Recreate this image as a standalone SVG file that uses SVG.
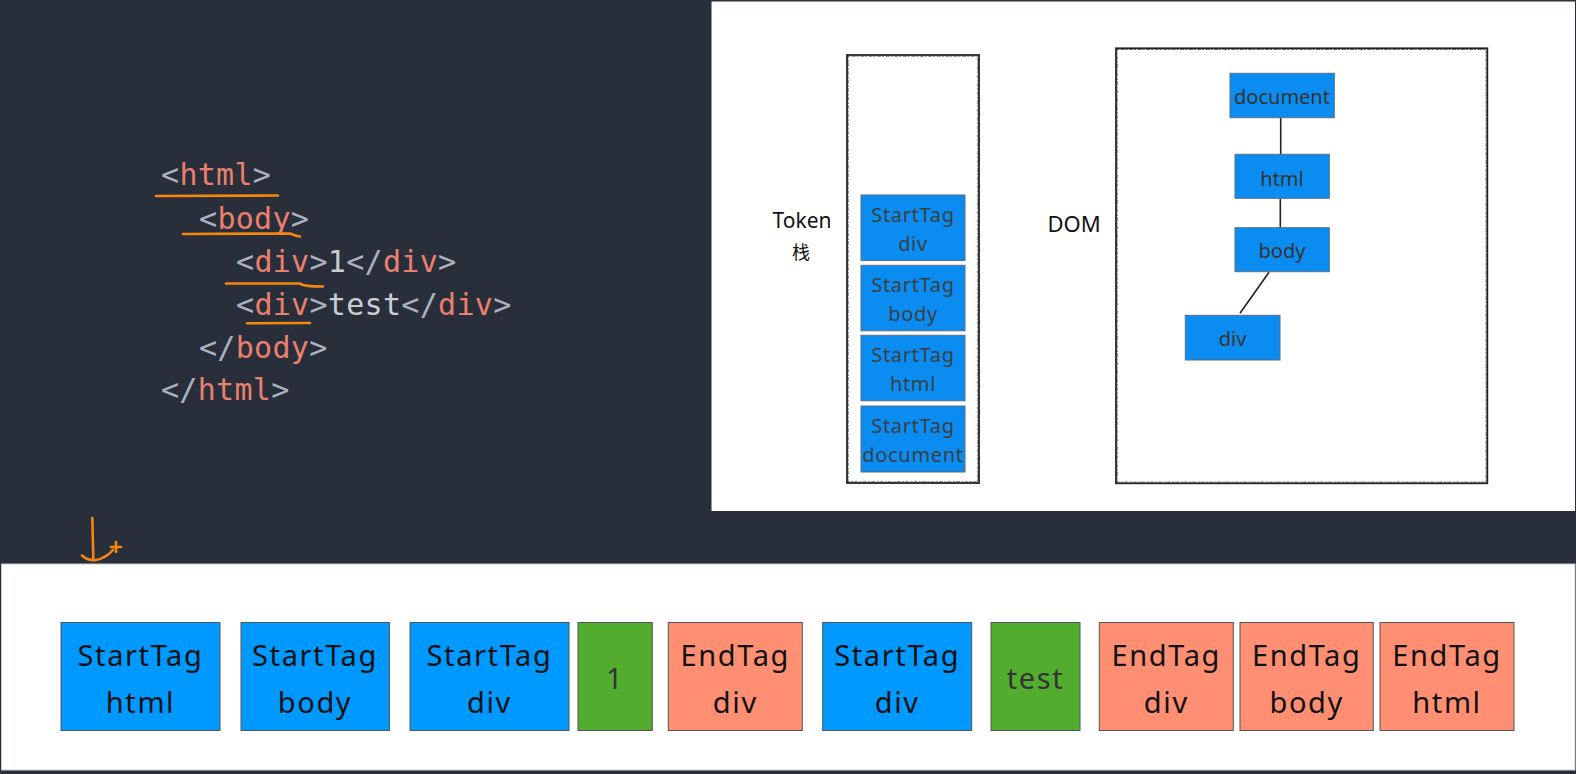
<svg xmlns="http://www.w3.org/2000/svg" width="1576" height="774" viewBox="0 0 1576 774">
<style>
.code{font-family:"DejaVu Sans Mono","Liberation Mono",monospace;font-size:30px;fill:#abb2bf;letter-spacing:0.3px}
.tg{fill:#e9806e}
.tx{fill:#c8ccd4}
.ul{fill:none;stroke:#f5870f;stroke-width:2.6;stroke-linecap:round;stroke-linejoin:round}
.frame{fill:none;stroke:#222;stroke-width:1.8}
.rough{fill:none;stroke:#444;stroke-width:1;stroke-dasharray:2 1.5 4 1;opacity:0.8}
.stk{fill:#0a8cf0;stroke:#5a6f80;stroke-width:1}
.stkt{font-family:"Noto Sans","DejaVu Sans",sans-serif;font-size:20px;fill:#3a3f44;text-anchor:middle;letter-spacing:0.7px}
.dom{fill:#0a8cf0;stroke:#5a6f80;stroke-width:1}
.domt{font-family:"Noto Sans","DejaVu Sans",sans-serif;font-size:20px;fill:#333;text-anchor:middle}
.lbl{font-family:"Noto Sans","DejaVu Sans",sans-serif;font-size:21px;fill:#111;text-anchor:middle}
.blue{fill:#0099ff;stroke:#555;stroke-width:1}
.green{fill:#52ad2f;stroke:#555;stroke-width:1}
.red{fill:#ff8f72;stroke:#555;stroke-width:1}
.tok{font-family:"Noto Sans","DejaVu Sans",sans-serif;font-size:29px;fill:#111;text-anchor:middle;letter-spacing:1.6px}
.tokg{font-family:"Noto Sans","DejaVu Sans",sans-serif;font-size:29px;fill:#333;text-anchor:middle;letter-spacing:1.6px}
.edge{stroke:#222;stroke-width:1.6;fill:none}
</style>
<rect x="0" y="0" width="1576" height="774" fill="#292e3b"/>
<g id="code">
<text class="code" x="161" y="185">&lt;<tspan class="tg">html</tspan>&gt;</text>
<text class="code" x="199" y="229">&lt;<tspan class="tg">body</tspan>&gt;</text>
<text class="code" x="236" y="272">&lt;<tspan class="tg">div</tspan>&gt;<tspan class="tx">1</tspan>&lt;/<tspan class="tg">div</tspan>&gt;</text>
<text class="code" x="236" y="315">&lt;<tspan class="tg">div</tspan>&gt;<tspan class="tx">test</tspan>&lt;/<tspan class="tg">div</tspan>&gt;</text>
<text class="code" x="199" y="358">&lt;/<tspan class="tg">body</tspan>&gt;</text>
<text class="code" x="161" y="400">&lt;/<tspan class="tg">html</tspan>&gt;</text>
</g>
<g id="underlines">
<path class="ul" d="M156 196 L278 195.5"/>
<path class="ul" d="M183 234 L290 233.5 Q296 236 300 236.5"/>
<path class="ul" d="M226 283.5 L300 283.5 Q303 286.5 323 286.5"/>
<path class="ul" d="M247 323.3 L310 323"/>
<path class="ul" d="M92.3 518 L93.3 558"/>
<path class="ul" d="M82 555.5 Q88 561 96 560 Q106 558 113 550"/>
<path class="ul" d="M111 547 L121 547 M116 542 L116 552" stroke-width="1.8"/>
</g>
<rect x="711.5" y="1.5" width="863.5" height="509.5" fill="#fff"/>
<rect x="1.5" y="564" width="1573.5" height="206" fill="#fff" stroke="#c9ccd1" stroke-width="1"/>
<g id="token-stack">
<text class="lbl" x="802" y="228">Token</text>
<text class="lbl" x="801" y="259" style="font-family:'Noto Sans CJK SC',sans-serif;font-size:18px">栈</text>
<rect class="frame" x="847" y="55" width="132" height="428"/>
<rect class="rough" x="848.2" y="56.2" width="129.6" height="425.6"/>
</g>
<g id="stack-div">
<rect class="stk" x="861" y="195" width="104" height="65.5"/>
<text class="stkt" x="913" y="222">StartTag</text>
<text class="stkt" x="913" y="251">div</text>
</g>
<g id="stack-body">
<rect class="stk" x="861" y="265.3" width="104" height="65.5"/>
<text class="stkt" x="913" y="292">StartTag</text>
<text class="stkt" x="913" y="321">body</text>
</g>
<g id="stack-html">
<rect class="stk" x="861" y="335.3" width="104" height="65.5"/>
<text class="stkt" x="913" y="362">StartTag</text>
<text class="stkt" x="913" y="391">html</text>
</g>
<g id="stack-document">
<rect class="stk" x="861" y="406" width="104" height="66"/>
<text class="stkt" x="913" y="433">StartTag</text>
<text class="stkt" x="913" y="462">document</text>
</g>
<g id="dom-frame">
<text class="lbl" x="1074" y="232" style="font-size:22px">DOM</text>
<rect class="frame" x="1116" y="48.3" width="371.3" height="435"/>
<rect class="rough" x="1117.2" y="49.5" width="368.9" height="432.6"/>
</g>
<g id="connectors">
<line class="edge" x1="1280.7" y1="117.7" x2="1280.7" y2="154.3"/>
<line class="edge" x1="1280.3" y1="198.3" x2="1280.3" y2="227.7"/>
<line class="edge" x1="1269" y1="272.3" x2="1240" y2="313.3"/>
</g>
<g id="dom-document">
<rect class="dom" x="1230" y="73.3" width="104.3" height="44.4"/>
<text class="domt" x="1282" y="104">document</text>
</g>
<g id="dom-html">
<rect class="dom" x="1235" y="154.3" width="94.3" height="44"/>
<text class="domt" x="1282" y="186">html</text>
</g>
<g id="dom-body">
<rect class="dom" x="1235" y="227.7" width="94.3" height="44"/>
<text class="domt" x="1282" y="258">body</text>
</g>
<g id="dom-div">
<rect class="dom" x="1185.3" y="315.3" width="94.7" height="44.7"/>
<text class="domt" x="1232.6" y="346">div</text>
</g>
<g id="tok-1">
<rect class="blue" x="61" y="622.5" width="159" height="108"/>
<text class="tok" x="140.5" y="666">StartTag</text>
<text class="tok" x="140.5" y="713">html</text>
</g>
<g id="tok-2">
<rect class="blue" x="241" y="622.5" width="148.5" height="108"/>
<text class="tok" x="315" y="666">StartTag</text>
<text class="tok" x="315" y="713">body</text>
</g>
<g id="tok-3">
<rect class="blue" x="410" y="622.5" width="159" height="108"/>
<text class="tok" x="489.5" y="666">StartTag</text>
<text class="tok" x="489.5" y="713">div</text>
</g>
<g id="tok-4">
<rect class="green" x="578" y="622.5" width="74.3" height="108"/>
<text class="tokg" x="615" y="689">1</text>
</g>
<g id="tok-5">
<rect class="red" x="668.3" y="622.5" width="134" height="108"/>
<text class="tok" x="735.3" y="666">EndTag</text>
<text class="tok" x="735.3" y="713">div</text>
</g>
<g id="tok-6">
<rect class="blue" x="822.7" y="622.5" width="149" height="108"/>
<text class="tok" x="897.2" y="666">StartTag</text>
<text class="tok" x="897.2" y="713">div</text>
</g>
<g id="tok-7">
<rect class="green" x="991" y="622.5" width="89" height="108"/>
<text class="tokg" x="1035.5" y="689">test</text>
</g>
<g id="tok-8">
<rect class="red" x="1099.3" y="622.5" width="134" height="108"/>
<text class="tok" x="1166.3" y="666">EndTag</text>
<text class="tok" x="1166.3" y="713">div</text>
</g>
<g id="tok-9">
<rect class="red" x="1240" y="622.5" width="133.3" height="108"/>
<text class="tok" x="1306.7" y="666">EndTag</text>
<text class="tok" x="1306.7" y="713">body</text>
</g>
<g id="tok-10">
<rect class="red" x="1380" y="622.5" width="134" height="108"/>
<text class="tok" x="1447" y="666">EndTag</text>
<text class="tok" x="1447" y="713">html</text>
</g>
</svg>
